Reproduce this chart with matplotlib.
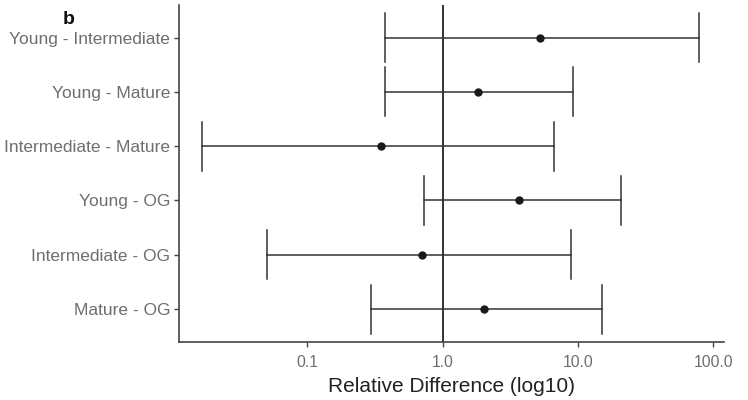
import matplotlib.pyplot as plt

# ------------------ DATA ------------------ #
contrasts = ["Young - Intermediate", "Young - Mature", "Intermediate - Mature",
             "Young - OG", "Intermediate - OG", "Mature - OG"]
estimate = [5.25, 1.84, 0.35, 3.69, 0.71, 2.02]
lower = [0.372, 0.377, 0.0167, 0.732, 0.050, 0.295]
upper = [78.7, 9.2, 6.62, 20.8, 8.95, 15.1]
xticks = [0.1, 1.0, 10.0, 100.0]
xtick_labels = ["0.1", "1.0", "10.0", "100.0"]

plt.rcParams["font.family"] = ["Liberation Sans", "DejaVu Sans"]

fig = plt.figure(figsize=(7.48, 4.0), dpi=100)
ax = fig.add_axes([0.2397, 0.1458, 0.7283, 0.8417])

# top row first
ypos = [len(contrasts) - i for i in range(len(contrasts))]
line_col = "#333333"

ax.axvline(1.0, color="#222222", lw=1.3, zorder=1)

for y, est, lo, hi in zip(ypos, estimate, lower, upper):
    ax.plot([lo, hi], [y, y], color=line_col, lw=1.1, zorder=2)
    ax.plot([lo, lo], [y - 0.45, y + 0.45], color=line_col, lw=1.1, zorder=2)
    ax.plot([hi, hi], [y - 0.45, y + 0.45], color=line_col, lw=1.1, zorder=2)
    ax.plot(est, y, "o", color="#1a1a1a", ms=5, zorder=3)

ax.set_xscale("log")
ax.set_xlim(0.0113, 120.6)
ax.set_ylim(0.4, 6.6)

ax.set_xticks(xticks)
ax.set_xticklabels(xtick_labels)
ax.minorticks_off()
ax.set_yticks(ypos)
ax.set_yticklabels(contrasts)

ax.tick_params(axis="both", colors="#444444", length=3.5, width=1.0,
               labelcolor="#6e6e6e", labelsize=11.3)
ax.tick_params(axis="y", labelsize=12.5, pad=3)
ax.tick_params(axis="x", pad=6)

for s in ["top", "right"]:
    ax.spines[s].set_visible(False)
for s in ["left", "bottom"]:
    ax.spines[s].set_color("#444444")
    ax.spines[s].set_linewidth(1.2)

ax.set_xlabel("Relative Difference (log10)", fontsize=15, color="#222222", labelpad=5)

fig.text(0.084, 0.94, "b", fontsize=14, fontweight="bold", color="#111111")

fig.savefig("out.png", dpi=100)
